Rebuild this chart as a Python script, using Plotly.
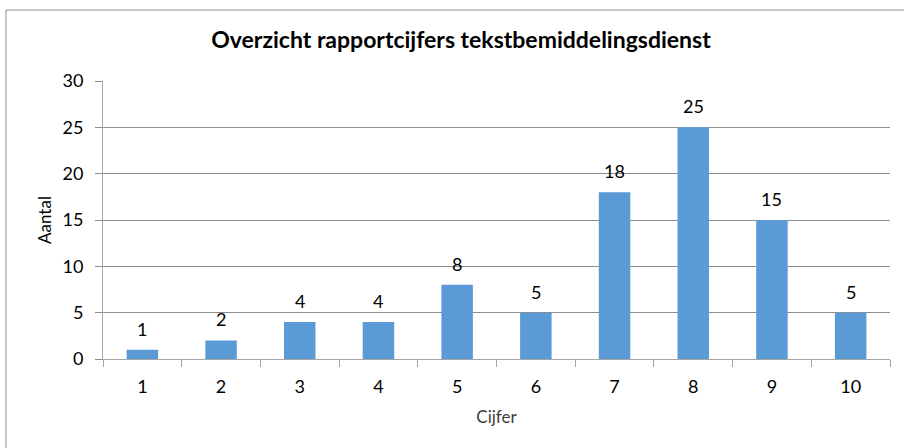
import plotly.graph_objects as go

categories = ["1", "2", "3", "4", "5", "6", "7", "8", "9", "10"]
values = [1, 2, 4, 4, 8, 5, 18, 25, 15, 5]
y_ticks = [0, 5, 10, 15, 20, 25, 30]

FONT = "Lato"
BAR = "#5B9BD5"

fig = go.Figure()
fig.add_trace(go.Bar(x=categories, y=values, marker=dict(color=BAR, line=dict(width=0)),
                     hoverinfo="x+y"))

for i, v in enumerate(values):
    fig.add_annotation(x=i, y=v, text=str(v), showarrow=False, yanchor="bottom",
                       yshift=8, font=dict(family=FONT, size=18, color="#000000"))

fig.update_layout(
    width=904, height=448,
    margin=dict(l=103, r=14, t=81, b=89),
    paper_bgcolor="white", plot_bgcolor="white",
    showlegend=False,
    bargap=0.6,
    title=dict(text="<b>Overzicht rapportcijfers tekstbemiddelingsdienst</b>",
               x=461 / 904, xref="container", xanchor="center", y=0.91, yanchor="middle",
               font=dict(family=FONT, size=23, color="#000000")),
    font=dict(family=FONT, size=18, color="#000000"),
)
fig.update_xaxes(
    type="category", showgrid=False, showline=True, linecolor="#A6A6A6", linewidth=1,
    ticks="outside", ticklen=7, tickcolor="#A6A6A6", tickson="boundaries",
    ticklabelstandoff=11,
    tickfont=dict(family=FONT, size=18, color="#000000"),
    title=dict(text="Cijfer", standoff=15, font=dict(family=FONT, size=17, color="#404040")),
)
fig.update_yaxes(
    range=[0, 30], tickvals=y_ticks, showgrid=True, gridcolor="#8C8C8C", gridwidth=1,
    showline=True, linecolor="#A6A6A6", linewidth=1, zeroline=False,
    ticks="outside", ticklen=7, tickcolor="#8C8C8C", ticklabelstandoff=8,
    tickfont=dict(family=FONT, size=18, color="#000000"),
    title=dict(text="Aantal", standoff=6, font=dict(family=FONT, size=17, color="#000000")),
)
# chart border (Excel chart area frame)
fig.add_shape(type="rect", xref="paper", yref="paper",
              x0=(6 - 103) / 787, x1=(910 - 103) / 787,
              y0=(359 - 460) / 278, y1=(359 - 10) / 278,
              line=dict(color="#8C8C8C", width=1), fillcolor="rgba(0,0,0,0)", layer="below")

fig.write_html("out.html", config={"displayModeBar": False},
               post_script="document.body.style.margin='0';")
